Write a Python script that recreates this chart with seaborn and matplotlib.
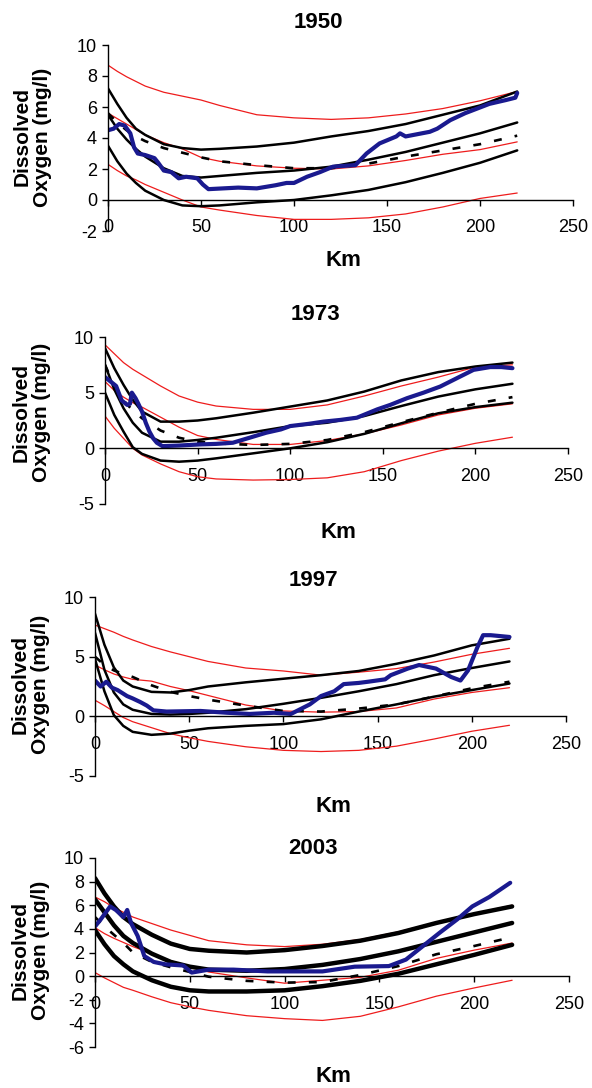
import matplotlib
matplotlib.use("Agg")
import matplotlib.pyplot as plt
import seaborn as sns

# shared km grid for the model curves
KM = [0, 5, 10, 15, 20, 30, 40, 50, 60, 80, 100, 120, 140, 160, 180, 200, 220]

# ---- 1950 ----
red_hi_1950 = [8.7, 8.3, 7.95, 7.65, 7.35, 6.95, 6.7, 6.45, 6.1, 5.5, 5.3, 5.2, 5.3, 5.55, 5.9, 6.4, 7.0]
red_mid_1950 = [5.6, 5.25, 4.9, 4.55, 4.2, 3.7, 3.3, 2.75, 2.5, 2.2, 2.05, 2.0, 2.2, 2.55, 2.95, 3.25, 3.75]
red_lo_1950 = [2.3, 1.9, 1.55, 1.3, 1.0, 0.5, 0.0, -0.45, -0.65, -1.0, -1.25, -1.25, -1.15, -0.9, -0.45, 0.1, 0.45]
blk_hi_1950 = [7.2, 6.2, 5.3, 4.6, 4.2, 3.6, 3.35, 3.25, 3.3, 3.45, 3.7, 4.1, 4.45, 4.9, 5.5, 6.1, 7.0]
blk_mid_1950 = [5.5, 4.6, 3.9, 3.3, 2.8, 2.05, 1.55, 1.45, 1.55, 1.75, 1.9, 2.15, 2.6, 3.1, 3.7, 4.3, 5.0]
blk_lo_1950 = [3.5, 2.5, 1.7, 1.1, 0.6, 0.0, -0.35, -0.4, -0.35, -0.15, 0.0, 0.3, 0.65, 1.15, 1.75, 2.4, 3.2]
dash_1950 = [5.6, 5.0, 4.5, 4.1, 3.8, 3.35, 3.05, 2.75, 2.5, 2.25, 2.05, 2.05, 2.35, 2.8, 3.2, 3.6, 4.15]
obs_km_1950 = [0, 3, 6, 9, 12, 14, 16, 20, 25, 27, 30, 34, 38, 42, 48, 51, 54, 62, 70, 80, 90, 96,
               100, 107, 114, 121, 133, 139, 146, 155, 157, 160, 173, 177, 184, 192, 205, 214, 219, 220]
obs_1950 = [4.5, 4.6, 4.9, 4.8, 4.3, 3.4, 3.0, 2.9, 2.7, 2.4, 1.9, 1.8, 1.4, 1.5, 1.4, 1.0, 0.7, 0.75,
            0.8, 0.75, 0.95, 1.1, 1.1, 1.5, 1.8, 2.15, 2.25, 3.0, 3.65, 4.1, 4.3, 4.1, 4.4, 4.6, 5.15,
            5.6, 6.2, 6.45, 6.6, 6.9]

# ---- 1973 ----
red_hi_1973 = [9.3, 8.5, 7.7, 7.1, 6.6, 5.6, 4.7, 4.15, 3.8, 3.5, 3.5, 3.9, 4.7, 5.6, 6.4, 7.3, 7.5]
red_mid_1973 = [6.0, 5.2, 4.6, 4.1, 3.7, 2.8, 1.9, 1.15, 0.8, 0.35, 0.35, 0.7, 1.3, 2.1, 3.0, 3.6, 4.0]
red_lo_1973 = [2.9, 1.8, 0.9, 0.0, -0.6, -1.4, -2.1, -2.55, -2.75, -2.85, -2.8, -2.65, -2.1, -1.1, -0.25, 0.45, 1.0]
blk_hi_1973 = [9.0, 7.2, 5.7, 4.35, 3.3, 2.4, 2.4, 2.5, 2.7, 3.2, 3.75, 4.3, 5.1, 6.1, 6.85, 7.35, 7.7]
blk_mid_1973 = [7.5, 5.3, 3.6, 2.3, 1.4, 0.6, 0.6, 0.75, 0.95, 1.45, 2.0, 2.3, 2.9, 3.8, 4.65, 5.3, 5.8]
blk_lo_1973 = [5.0, 3.0, 1.5, 0.1, -0.5, -1.1, -1.2, -1.1, -0.9, -0.45, 0.0, 0.55, 1.3, 2.25, 3.15, 3.7, 4.1]
dash_1973 = [7.5, 5.6, 4.3, 3.4, 2.7, 1.6, 0.95, 0.6, 0.45, 0.3, 0.4, 0.75, 1.45, 2.35, 3.2, 4.0, 4.6]
obs_km_1973 = [0, 3, 6, 9, 12, 13.5, 14.5, 16.5, 18, 20, 22, 24, 26, 28, 31, 40, 51, 60, 69, 78, 87, 95,
               100, 110, 118, 127, 136, 147, 154, 163, 172, 181, 190, 199, 208, 214, 220]
obs_1973 = [6.4, 6.0, 5.6, 4.3, 3.9, 4.0, 5.0, 4.5, 4.0, 3.3, 2.3, 1.5, 0.9, 0.5, 0.2, 0.25, 0.35, 0.4,
            0.5, 0.95, 1.4, 1.7, 2.0, 2.2, 2.4, 2.55, 2.75, 3.5, 3.9, 4.5, 5.0, 5.55, 6.3, 7.05, 7.3, 7.3, 7.2]

# ---- 1997 ----
red_hi_1997 = [7.65, 7.35, 7.05, 6.7, 6.4, 5.85, 5.4, 5.0, 4.6, 4.05, 3.8, 3.45, 3.7, 4.0, 4.55, 5.2, 5.7]
red_mid_1997 = [4.3, 3.9, 3.55, 3.3, 3.1, 2.95, 2.5, 2.15, 1.75, 0.95, 0.45, 0.35, 0.4, 0.7, 1.45, 2.0, 2.4]
red_lo_1997 = [1.35, 0.9, 0.4, -0.1, -0.45, -0.95, -1.45, -1.8, -2.1, -2.55, -2.85, -2.95, -2.85, -2.5, -1.9, -1.25, -0.75]
blk_hi_1997 = [8.6, 6.0, 4.1, 3.0, 2.5, 2.05, 2.0, 2.2, 2.5, 2.85, 3.15, 3.45, 3.8, 4.4, 5.1, 5.95, 6.5]
blk_mid_1997 = [7.0, 3.9, 2.0, 1.0, 0.55, 0.2, 0.15, 0.2, 0.3, 0.6, 1.05, 1.55, 2.1, 2.7, 3.45, 4.05, 4.6]
blk_lo_1997 = [4.8, 2.1, 0.1, -0.8, -1.3, -1.55, -1.45, -1.2, -1.0, -0.8, -0.65, -0.25, 0.4, 1.0, 1.65, 2.2, 2.75]
dash_1997 = [5.0, 4.3, 3.85, 3.55, 3.3, 2.6, 2.05, 1.7, 1.4, 0.9, 0.45, 0.4, 0.65, 1.0, 1.65, 2.35, 2.9]
obs_km_1997 = [0, 3, 6, 9, 12, 17, 20, 24, 27.5, 31, 38, 56, 70, 82, 95, 104, 109, 114, 120, 127, 132,
               140, 145, 154, 157, 166, 172, 181, 189, 194, 198, 203, 206, 210, 220]
obs_1997 = [3.0, 2.5, 2.9, 2.4, 2.2, 1.7, 1.5, 1.2, 0.9, 0.5, 0.4, 0.45, 0.3, 0.2, 0.3, 0.2, 0.6, 1.0,
            1.7, 2.1, 2.7, 2.8, 2.9, 3.1, 3.45, 4.0, 4.3, 4.0, 3.3, 3.0, 3.85, 5.8, 6.8, 6.8, 6.65]

# ---- 2003 ----
red_hi_2003 = [6.7, 6.3, 5.8, 5.4, 5.0, 4.45, 3.9, 3.45, 3.0, 2.65, 2.5, 2.7, 3.1, 3.75, 4.55, 5.3, 6.0]
red_mid_2003 = [4.1, 3.6, 3.2, 2.85, 2.5, 1.9, 1.3, 0.8, 0.35, -0.15, -0.6, -0.35, -0.1, 0.5, 1.5, 2.2, 2.8]
red_lo_2003 = [0.3, -0.15, -0.55, -0.95, -1.2, -1.75, -2.25, -2.6, -2.9, -3.35, -3.6, -3.75, -3.4, -2.6, -1.7, -1.0, -0.35]
blk_hi_2003 = [8.3, 7.0, 5.9, 5.0, 4.4, 3.5, 2.75, 2.3, 2.15, 2.0, 2.2, 2.55, 3.0, 3.65, 4.5, 5.25, 5.9]
blk_mid_2003 = [6.5, 5.4, 4.3, 3.4, 2.8, 1.9, 1.2, 0.8, 0.55, 0.45, 0.6, 0.95, 1.45, 2.1, 2.9, 3.7, 4.5]
blk_lo_2003 = [3.9, 2.7, 1.7, 1.0, 0.4, -0.35, -0.9, -1.2, -1.3, -1.3, -1.2, -0.85, -0.4, 0.2, 1.0, 1.8, 2.65]
dash_2003 = [5.0, 4.2, 3.5, 2.8, 2.0, 1.2, 0.75, 0.35, -0.05, -0.4, -0.55, -0.5, 0.1, 0.85, 1.85, 2.55, 3.3]
obs_km_2003 = [0, 3, 8, 11, 15, 17, 19, 22.5, 26, 31, 37, 46.5, 51, 60, 73, 91, 108, 120, 137, 155,
               164, 173, 182, 191, 199, 208, 219]
obs_2003 = [4.2, 4.8, 5.9, 5.6, 5.0, 5.6, 4.5, 3.4, 1.7, 1.2, 1.0, 0.9, 0.3, 0.55, 0.55, 0.4, 0.4, 0.4,
            0.8, 0.85, 1.4, 2.55, 3.7, 4.8, 5.9, 6.7, 7.9]

YEARS = ["1950", "1973", "1997", "2003"]

sns.set_style("ticks")
plt.rcParams['font.family'] = ['Liberation Sans', 'DejaVu Sans']
plt.rcParams['axes.unicode_minus'] = False
for key in ("text.color", "axes.labelcolor", "xtick.color", "ytick.color", "axes.edgecolor"):
    plt.rcParams[key] = "black"

W, H = 592, 1088
fig = plt.figure(figsize=(W / 100, H / 100), dpi=100)

# layout in pixels: axes box (left, top, right, bottom), title centre, "Km" centre, ylabel centre
panels = [
    dict(year=YEARS[0], box=(108, 45, 573, 231), ylim=(-2, 10), yticks=range(-2, 11, 2),
         title=(318, 22), km=(343, 260), ylab=(32, 137), blw=1.8,
         curves=(red_hi_1950, red_mid_1950, red_lo_1950, blk_hi_1950, blk_mid_1950, blk_lo_1950, dash_1950),
         obs=(obs_km_1950, obs_1950)),
    dict(year=YEARS[1], box=(105, 337, 568, 504), ylim=(-5, 10), yticks=[-5, 0, 5, 10],
         title=(315, 315), km=(338, 533), ylab=(31, 412), blw=1.8,
         curves=(red_hi_1973, red_mid_1973, red_lo_1973, blk_hi_1973, blk_mid_1973, blk_lo_1973, dash_1973),
         obs=(obs_km_1973, obs_1973)),
    dict(year=YEARS[2], box=(95, 597, 566, 776), ylim=(-5, 10), yticks=[-5, 0, 5, 10],
         title=(313, 580), km=(333, 807), ylab=(30, 684), blw=1.8,
         curves=(red_hi_1997, red_mid_1997, red_lo_1997, blk_hi_1997, blk_mid_1997, blk_lo_1997, dash_1997),
         obs=(obs_km_1997, obs_1997)),
    dict(year=YEARS[3], box=(95, 858, 569, 1047), ylim=(-6, 10), yticks=range(-6, 11, 2),
         title=(313, 848), km=(333, 1077), ylab=(30, 950), blw=3.2,
         curves=(red_hi_2003, red_mid_2003, red_lo_2003, blk_hi_2003, blk_mid_2003, blk_lo_2003, dash_2003),
         obs=(obs_km_2003, obs_2003)),
]

RED = "#ee1c1c"
BLUE = "#1a1a8f"

for p in panels:
    l, t, r, b = p["box"]
    ax = fig.add_axes([l / W, 1 - b / H, (r - l) / W, (b - t) / H])
    rh, rm, rl, bh, bm, bl, dsh = p["curves"]

    for vals in (rh, rm, rl):
        sns.lineplot(x=KM, y=vals, ax=ax, color=RED, linewidth=0.9)
    for vals in (bh, bm, bl):
        sns.lineplot(x=KM, y=vals, ax=ax, color="black", linewidth=p["blw"])
    sns.lineplot(x=KM, y=dsh, ax=ax, color="black", linewidth=1.9)
    ax.lines[-1].set_dashes([3, 5])
    sns.lineplot(x=p["obs"][0], y=p["obs"][1], ax=ax, color=BLUE, linewidth=3.0)

    ax.set_xlim(0, 250)
    ax.set_ylim(*p["ylim"])
    ax.set_xticks(range(0, 251, 50))
    ax.set_yticks(list(p["yticks"]))
    ax.spines["top"].set_visible(False)
    ax.spines["right"].set_visible(False)
    ax.spines["bottom"].set_position(("data", 0))
    for s in ("left", "bottom"):
        ax.spines[s].set_linewidth(1.0)
        ax.spines[s].set_color("black")
    ax.tick_params(axis="x", direction="out", length=4, width=1, pad=10, labelsize=13, colors="black")
    ax.tick_params(axis="y", direction="out", length=4, width=1, pad=4, labelsize=13, colors="black")
    ax.set_xlabel("")
    ax.set_ylabel("")

    tx, ty = p["title"]
    fig.text(tx / W, 1 - ty / H, p["year"], ha="center", va="center", fontsize=16, fontweight="bold")
    kx, ky = p["km"]
    fig.text(kx / W, 1 - ky / H, "Km", ha="center", va="center", fontsize=16, fontweight="bold")
    yx, yy = p["ylab"]
    fig.text(yx / W, 1 - yy / H, "Dissolved\nOxygen (mg/l)", ha="center", va="center",
             rotation=90, multialignment="center", fontsize=15, fontweight="bold", linespacing=1.1)

fig.savefig("out.png", dpi=100, facecolor="white")
